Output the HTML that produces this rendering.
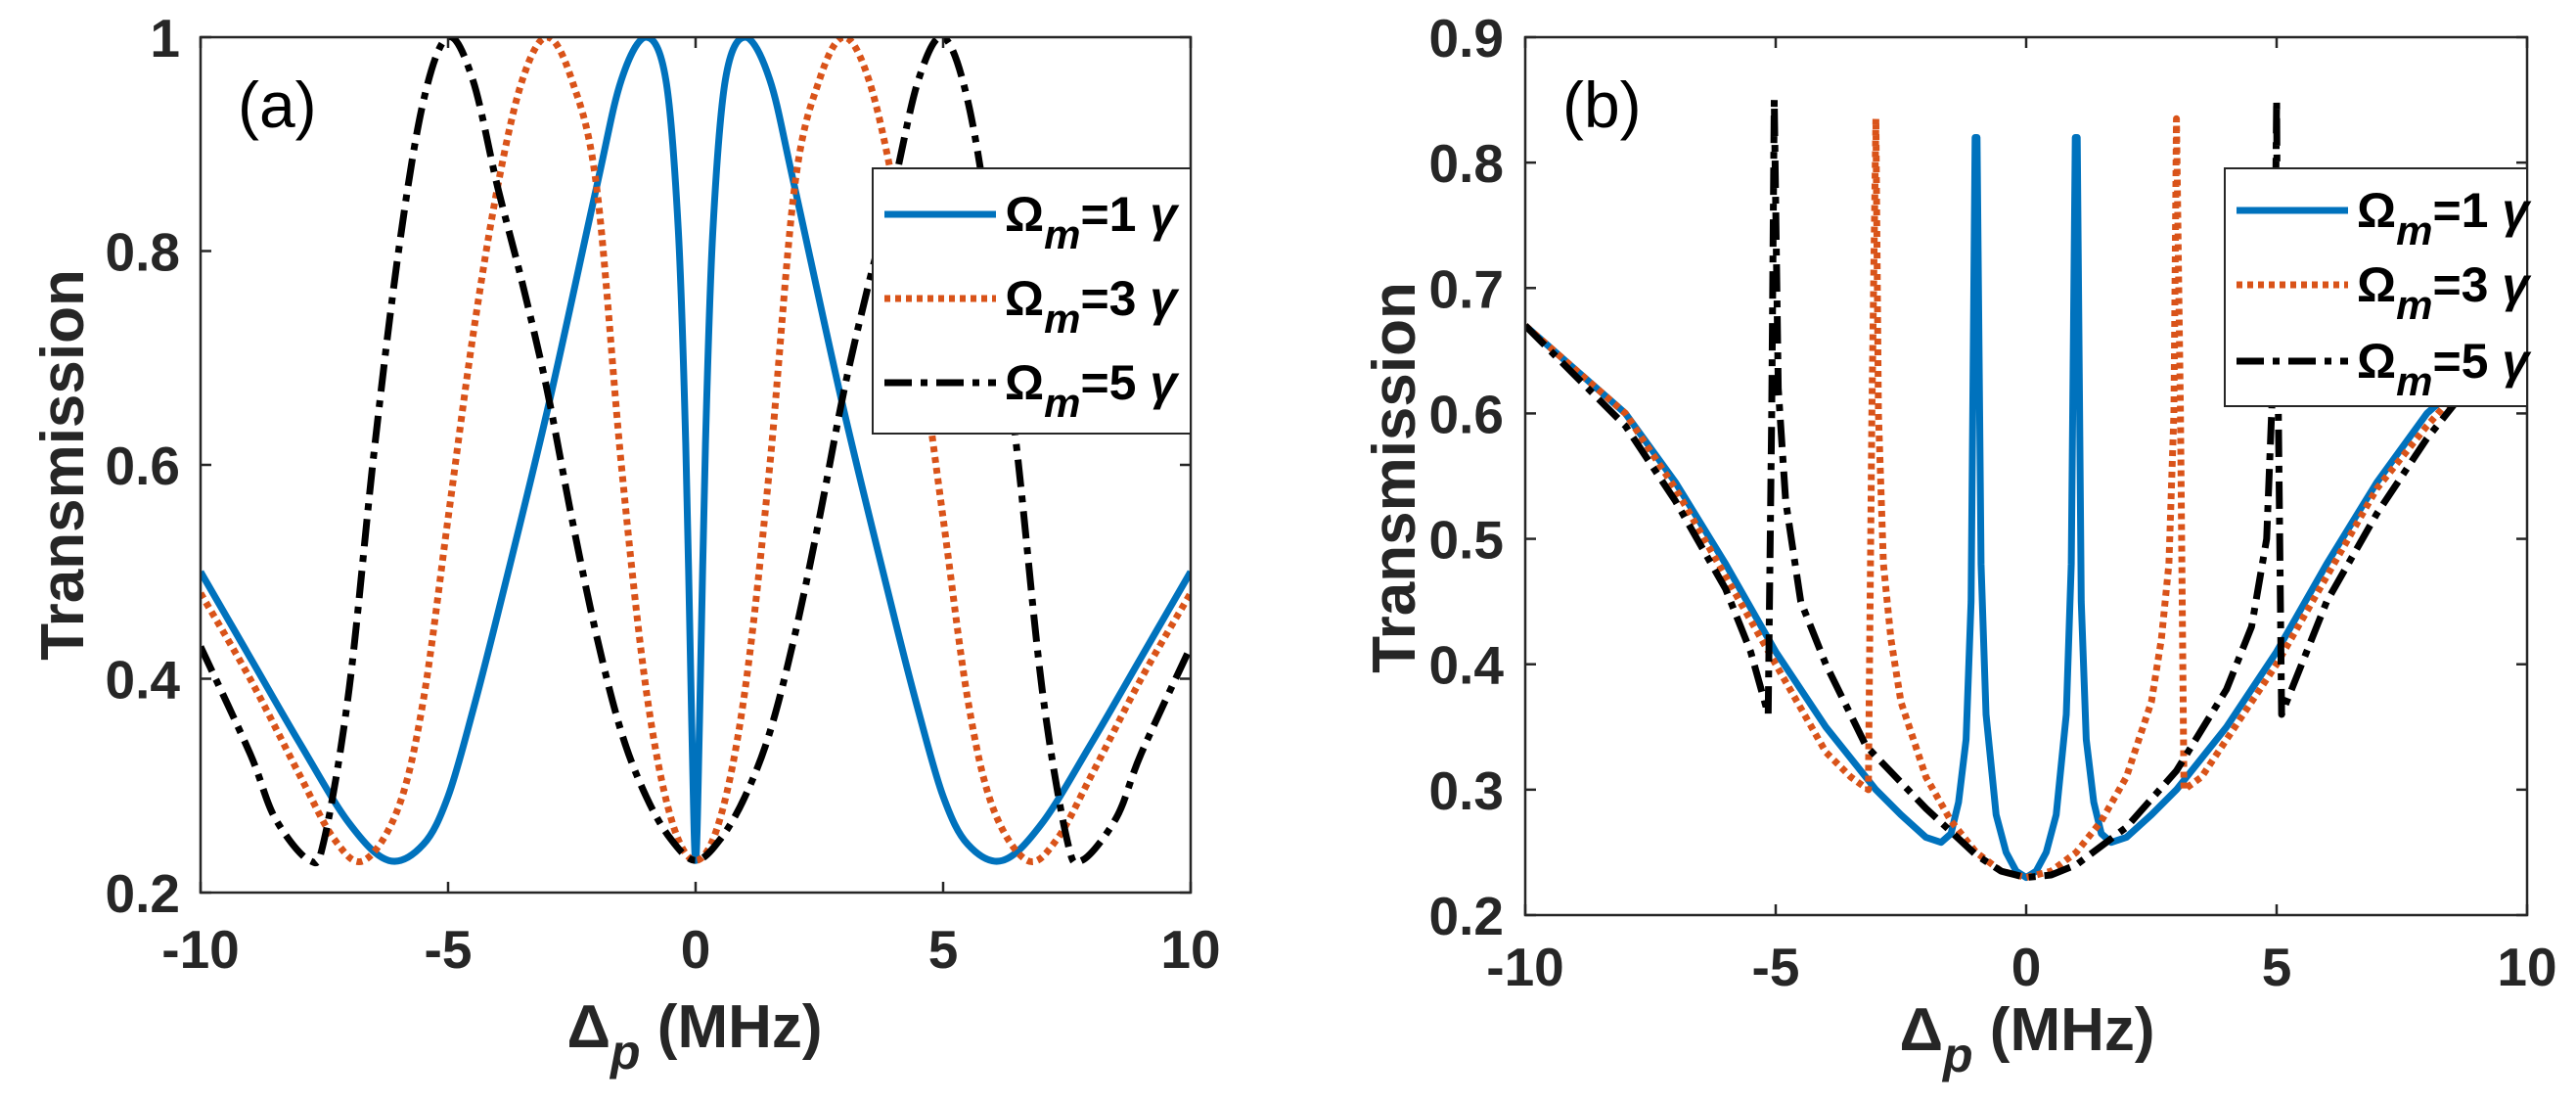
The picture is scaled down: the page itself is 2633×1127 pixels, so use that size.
<!DOCTYPE html>
<html><head><meta charset="utf-8">
<style>
html,body{margin:0;padding:0;background:#fff;}
svg{display:block;font-family:"Liberation Sans",Arial,sans-serif;}
</style></head>
<body>
<svg id="chart" xmlns="http://www.w3.org/2000/svg" width="2633" height="1127" viewBox="0 0 2633 1127">
<rect x="0" y="0" width="2633" height="1127" fill="#fff"/>
<g id="pa"></g>
<g id="pb"></g>
</svg>
<script>
// ---- Panel (a) data ----
const aXTicks = [-10, -5, 0, 5, 10];
const aYTicks = [0.2, 0.4, 0.6, 0.8, 1];
const aYTickLabels = ["0.2", "0.4", "0.6", "0.8", "1"];
const aBlueX = [-10,-9,-8,-7,-6.2,-5.5,-5,-4.5,-4,-3,-2,-1.5,-1,-0.6,-0.35,-0.2,-0.08,0,0.08,0.2,0.35,0.6,1,1.5,2,3,4,4.5,5,5.5,6.2,7,8,9,10];
const aBlueY = [0.50,0.42,0.34,0.265,0.23,0.245,0.29,0.37,0.46,0.65,0.86,0.96,1.0,0.96,0.82,0.62,0.36,0.23,0.36,0.62,0.82,0.96,1.0,0.96,0.86,0.65,0.46,0.37,0.29,0.245,0.23,0.265,0.34,0.42,0.50];
const aOrangeX = [-10,-9,-8,-7.3,-6.7,-6,-5.5,-5,-4.5,-4,-3.5,-3,-2.5,-2,-1.5,-1,-0.5,0,0.5,1,1.5,2,2.5,3,3.5,4,4.5,5,5.5,6,6.7,7.3,8,9,10];
const aOrangeY = [0.48,0.40,0.31,0.25,0.23,0.28,0.38,0.55,0.72,0.86,0.96,1.0,0.96,0.86,0.60,0.39,0.27,0.23,0.27,0.39,0.60,0.86,0.96,1.0,0.96,0.86,0.72,0.55,0.38,0.28,0.23,0.25,0.31,0.40,0.48];
const aBlackX = [-10,-9,-8.5,-7.8,-7.5,-7,-6.5,-6,-5.5,-5,-4.5,-4,-3.5,-3,-2.5,-2,-1.5,-1,-0.5,0,0.5,1,1.5,2,2.5,3,3.5,4,4.5,5,5.5,6,6.5,7,7.5,7.8,8.5,9,10];
const aBlackY = [0.43,0.33,0.27,0.23,0.25,0.39,0.61,0.80,0.94,1.0,0.96,0.86,0.77,0.67,0.55,0.44,0.35,0.29,0.25,0.23,0.25,0.29,0.35,0.44,0.55,0.67,0.77,0.86,0.96,1.0,0.94,0.80,0.61,0.39,0.25,0.23,0.27,0.33,0.43];

// ---- Panel (b) data ----
const bXTicks = [-10, -5, 0, 5, 10];
const bYTicks = [0.2, 0.3, 0.4, 0.5, 0.6, 0.7, 0.8, 0.9];
const bYTickLabels = ["0.2","0.3","0.4","0.5","0.6","0.7","0.8","0.9"];
const bBlueX = [-10,-9,-8,-7,-6,-5,-4,-3,-2.5,-2,-1.7,-1.5,-1.35,-1.2,-1.1,-1.02,-0.98,-0.9,-0.8,-0.6,-0.4,-0.2,0,0.2,0.4,0.6,0.8,0.9,0.98,1.02,1.1,1.2,1.35,1.5,1.7,2,2.5,3,4,5,6,7,8,9,10];
const bBlueY = [0.67,0.635,0.60,0.545,0.48,0.41,0.35,0.30,0.28,0.262,0.258,0.265,0.29,0.34,0.45,0.82,0.82,0.48,0.36,0.28,0.25,0.235,0.23,0.235,0.25,0.28,0.36,0.48,0.82,0.82,0.45,0.34,0.29,0.265,0.258,0.262,0.28,0.30,0.35,0.41,0.48,0.545,0.60,0.635,0.67];
const bOrangeX = [-10,-9,-8,-7,-6,-5,-4,-3.5,-3.15,-3.08,-3.0,-2.95,-2.85,-2.7,-2.5,-2,-1.5,-1,-0.5,0,0.5,1,1.5,2,2.5,2.7,2.85,2.95,3.0,3.08,3.15,3.5,4,5,6,7,8,9,10];
const bOrangeY = [0.67,0.635,0.60,0.54,0.47,0.40,0.33,0.31,0.30,0.60,0.835,0.60,0.48,0.42,0.37,0.31,0.275,0.25,0.235,0.23,0.235,0.25,0.275,0.31,0.37,0.42,0.48,0.60,0.835,0.60,0.30,0.31,0.34,0.40,0.47,0.54,0.59,0.635,0.67];
const bBlackX = [-10,-9,-8,-7,-6,-5.5,-5.15,-5.08,-5.03,-4.95,-4.8,-4.5,-4,-3.2,-2,-1,-0.5,0,0.5,1,2,3,4,4.5,4.8,4.95,5.0,5.03,5.1,5.5,6,7,8,9,10];
const bBlackY = [0.67,0.63,0.59,0.53,0.46,0.41,0.36,0.60,0.85,0.62,0.53,0.45,0.40,0.335,0.285,0.248,0.235,0.23,0.232,0.24,0.27,0.315,0.38,0.43,0.50,0.65,0.85,0.62,0.36,0.40,0.45,0.52,0.58,0.63,0.67];

const NS = "http://www.w3.org/2000/svg";
const TXT = "#262626";
function mk(tag, attrs, parent) {
  const e = document.createElementNS(NS, tag);
  for (const k in attrs) e.setAttribute(k, attrs[k]);
  parent.appendChild(e);
  return e;
}
function linPath(xs, ys, sx, sy) {
  return xs.map((x, i) => (i ? "L" : "M") + sx(x).toFixed(1) + "," + sy(ys[i]).toFixed(1)).join("");
}
function smoothPath(xs, ys, sx, sy) {
  const p = xs.map((x, i) => [sx(x), sy(ys[i])]);
  let d = "M" + p[0][0].toFixed(1) + "," + p[0][1].toFixed(1);
  for (let i = 0; i < p.length - 1; i++) {
    const p0 = p[Math.max(0, i - 1)], p1 = p[i], p2 = p[i + 1], p3 = p[Math.min(p.length - 1, i + 2)];
    const c1x = p1[0] + (p2[0] - p0[0]) / 6, c1y = p1[1] + (p2[1] - p0[1]) / 6;
    const c2x = p2[0] - (p3[0] - p1[0]) / 6, c2y = p2[1] - (p3[1] - p1[1]) / 6;
    d += "C" + c1x.toFixed(1) + "," + c1y.toFixed(1) + " " + c2x.toFixed(1) + "," + c2y.toFixed(1) + " " + p2[0].toFixed(1) + "," + p2[1].toFixed(1);
  }
  return d;
}
const STYLES = [
  {color: "#0072BD", dash: "none", label: "1"},
  {color: "#D95319", dash: "6 5", label: "3"},
  {color: "#000000", dash: "28 9 7 9", label: "5"}
];

function drawPanel(g, cfg) {
  const {L, R, T, B, ymin, ymax, xTicks, yTicks, yLabels, series, smooth, tag, leg, titleX, titleY, xlabY, yTickRight, xTickY} = cfg;
  const sx = x => L + (x + 10) / 20 * (R - L);
  const sy = y => B - (y - ymin) / (ymax - ymin) * (B - T);
  const cid = "clip" + tag;
  const defs = mk("defs", {}, g);
  const cp = mk("clipPath", {id: cid}, defs);
  mk("rect", {x: L, y: T, width: R - L, height: B - T}, cp);
  const sg = mk("g", {"clip-path": "url(#" + cid + ")"}, g);
  
  
  series.forEach((s, i) => {
    const st = STYLES[i];
    const d = smooth ? smoothPath(s[0], s[1], sx, sy) : linPath(s[0], s[1], sx, sy);
    const p = mk("path", {d: d, fill: "none", stroke: st.color, "stroke-width": 7, "stroke-dasharray": st.dash, "stroke-linejoin": "round"}, sg);
    
    
  });
  const box = mk("rect", {x: L, y: T, width: R - L, height: B - T, fill: "none", stroke: TXT, "stroke-width": 2.5}, g);
  
  
  xTicks.forEach(v => {
    const x = sx(v);
    mk("line", {x1: x, y1: B, x2: x, y2: B - 11, stroke: TXT, "stroke-width": 2.5}, g);
    mk("line", {x1: x, y1: T, x2: x, y2: T + 11, stroke: TXT, "stroke-width": 2.5}, g);
    const t = mk("text", {x: x, y: xTickY, "text-anchor": "middle", "font-size": 55, "font-weight": "bold", fill: TXT}, g);
    t.textContent = String(v);
    
    
  });
  yTicks.forEach((v, i) => {
    const y = sy(v);
    mk("line", {x1: L, y1: y, x2: L + 11, y2: y, stroke: TXT, "stroke-width": 2.5}, g);
    mk("line", {x1: R, y1: y, x2: R - 11, y2: y, stroke: TXT, "stroke-width": 2.5}, g);
    const t = mk("text", {x: yTickRight, y: y + 20, "text-anchor": "end", "font-size": 55, "font-weight": "bold", fill: TXT}, g);
    t.textContent = yLabels[i];
    
    
  });
  const pt = mk("text", {x: L + 38, y: T + 92, "font-size": 66, fill: "#000"}, g);
  pt.textContent = "(" + tag + ")";
  
  
  const yt = mk("text", {x: 0, y: 0, transform: "translate(" + titleY[0] + "," + titleY[1] + ") rotate(-90)", "text-anchor": "middle", "font-size": 62, "font-weight": "bold", fill: TXT}, g);
  yt.textContent = "Transmission";
  
  
  const xt = mk("text", {x: titleX, y: xlabY, "text-anchor": "middle", "font-size": 62, "font-weight": "bold", fill: TXT}, g);
  
  
  const d1 = mk("tspan", {}, xt); d1.textContent = "Δ";
  const d2 = mk("tspan", {"font-style": "italic", dy: 22, "font-size": 50}, xt); d2.textContent = "p";
  const d3 = mk("tspan", {dy: -22}, xt); d3.textContent = " (MHz)";
  const lg = mk("g", {}, g);
  
  
  mk("rect", {x: leg.x, y: leg.y, width: leg.w, height: leg.h, fill: "#fff", stroke: TXT, "stroke-width": 2}, lg);
  STYLES.forEach((st, i) => {
    const ry = leg.rows[i];
    const ln = mk("line", {x1: leg.x + 12, y1: ry, x2: leg.x + 126, y2: ry, stroke: st.color, "stroke-width": 7, "stroke-dasharray": st.dash}, lg);
    
    
    const t = mk("text", {x: leg.x + 135, y: ry + 17, "font-size": 50, "font-weight": "bold", fill: "#000"}, lg);
    
    
    const a = mk("tspan", {}, t); a.textContent = "Ω";
    const b = mk("tspan", {"font-style": "italic", dy: 18, "font-size": 42}, t); b.textContent = "m";
    const c = mk("tspan", {dy: -18}, t); c.textContent = "=" + st.label + " ";
    const e = mk("tspan", {"font-style": "italic"}, t); e.textContent = "γ";
  });
}

drawPanel(document.getElementById("pa"), {
  L: 205, R: 1217, T: 38, B: 912, ymin: 0.2, ymax: 1,
  xTicks: aXTicks, yTicks: aYTicks, yLabels: aYTickLabels,
  series: [[aBlueX, aBlueY], [aOrangeX, aOrangeY], [aBlackX, aBlackY]],
  smooth: true, tag: "a",
  leg: {x: 892, y: 172, w: 325, h: 271, rows: [219, 305, 391]},
  titleX: 710, xlabY: 1070, titleY: [85, 475], yTickRight: 184, xTickY: 989
});
drawPanel(document.getElementById("pb"), {
  L: 1559, R: 2583, T: 38, B: 935, ymin: 0.2, ymax: 0.9,
  xTicks: bXTicks, yTicks: bYTicks, yLabels: bYTickLabels,
  series: [[bBlueX, bBlueY], [bOrangeX, bOrangeY], [bBlackX, bBlackY]],
  smooth: false, tag: "b",
  leg: {x: 2274, y: 172, w: 309, h: 243, rows: [215, 291, 369]},
  titleX: 2072, xlabY: 1073, titleY: [1446, 488], yTickRight: 1537, xTickY: 1007
});
</script>
</body></html>
